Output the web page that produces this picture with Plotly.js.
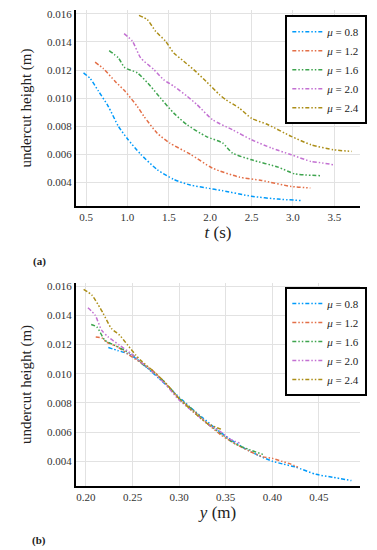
<!DOCTYPE html>
<html>
<head>
<meta charset="utf-8">
<script src="https://cdn.plot.ly/plotly-3.0.1.min.js"></script>
<style>html,body{margin:0;padding:0;background:#fff;}#chart{width:377px;height:550px;}</style>
</head>
<body>
<div id="chart"></div>
<script>
// Series labels and colours
const labels = ['0.8', '1.2', '1.6', '2.0', '2.4'];
const colors = ['#009AFA', '#E36F47', '#3EA44E', '#C371D2', '#AC8E18'];

// (a) undercut height vs time t (s)
const tA08 = [0.47, 0.55, 0.65, 0.77, 0.89, 1.0, 1.16, 1.36, 1.56, 1.76, 1.95, 2.15, 2.5, 2.82, 3.1];
const hA08 = [0.0118, 0.0114, 0.0105, 0.0094, 0.0080, 0.0071, 0.0060, 0.0049, 0.0042, 0.0038, 0.0036, 0.0034, 0.0030, 0.0028, 0.0027];
const tA12 = [0.61, 0.71, 0.85, 0.97, 1.12, 1.20, 1.36, 1.51, 1.76, 2.03, 2.35, 2.62, 2.98, 3.21];
const hA12 = [0.01256, 0.0121, 0.0112, 0.0105, 0.0094, 0.0087, 0.0075, 0.0068, 0.0060, 0.0050, 0.00437, 0.00413, 0.0037, 0.00359];
const tA16 = [0.78, 0.89, 0.97, 1.12, 1.28, 1.40, 1.56, 1.72, 1.95, 2.15, 2.27, 2.5, 2.82, 3.02, 3.33];
const hA16 = [0.01339, 0.01287, 0.01216, 0.0118, 0.01085, 0.0100, 0.00893, 0.0081, 0.00727, 0.0068, 0.00608, 0.0056, 0.00508, 0.0046, 0.00447];
const tA20 = [0.96, 1.06, 1.16, 1.32, 1.44, 1.56, 1.72, 1.84, 2.03, 2.27, 2.5, 2.74, 2.98, 3.22, 3.33, 3.49];
const hA20 = [0.0146, 0.01406, 0.01287, 0.01203, 0.0113, 0.01085, 0.01014, 0.00954, 0.00845, 0.00774, 0.00703, 0.00644, 0.00596, 0.00548, 0.0054, 0.00525];
const tA24 = [1.14, 1.24, 1.34, 1.46, 1.56, 1.68, 1.80, 1.95, 2.11, 2.19, 2.35, 2.5, 2.7, 2.98, 3.22, 3.49, 3.71];
const hA24 = [0.0159, 0.0156, 0.01477, 0.01406, 0.01322, 0.01263, 0.01203, 0.0112, 0.01026, 0.00988, 0.00929, 0.00856, 0.0081, 0.00727, 0.00667, 0.00632, 0.0062];

// (b) undercut height vs position y (m)
const yB08 = [0.224, 0.234, 0.245, 0.255, 0.265, 0.278, 0.29, 0.30, 0.312, 0.325, 0.34, 0.355, 0.37, 0.385, 0.40, 0.412, 0.425, 0.447, 0.465, 0.485];
const hB08 = [0.0118, 0.0116, 0.01138, 0.0110, 0.01045, 0.0097, 0.0090, 0.0084, 0.0077, 0.0070, 0.0062, 0.0055, 0.0049, 0.0044, 0.0040, 0.0038, 0.0036, 0.0031, 0.0029, 0.00267];
const yB12 = [0.2105, 0.217, 0.222, 0.234, 0.245, 0.258, 0.272, 0.286, 0.30, 0.315, 0.33, 0.345, 0.36, 0.375, 0.39, 0.40, 0.41, 0.42, 0.428];
const hB12 = [0.01253, 0.01246, 0.01218, 0.01184, 0.01135, 0.0108, 0.0102, 0.0093, 0.0083, 0.0075, 0.0066, 0.0058, 0.0052, 0.0047, 0.0043, 0.0042, 0.0040, 0.0038, 0.00358];
const yB16 = [0.2056, 0.2116, 0.2203, 0.2308, 0.2414, 0.25, 0.26, 0.272, 0.285, 0.30, 0.315, 0.33, 0.345, 0.36, 0.375, 0.39];
const hB16 = [0.01338, 0.01322, 0.0123, 0.01196, 0.01161, 0.0113, 0.0107, 0.0101, 0.0094, 0.0083, 0.0075, 0.0066, 0.0059, 0.0052, 0.0048, 0.00447];
const yB20 = [0.2021, 0.2098, 0.2168, 0.2238, 0.2361, 0.2484, 0.259, 0.272, 0.285, 0.30, 0.315, 0.33, 0.345, 0.355, 0.365];
const hB20 = [0.01453, 0.01403, 0.01299, 0.01253, 0.01196, 0.01138, 0.0108, 0.0101, 0.0093, 0.0082, 0.0074, 0.0066, 0.0060, 0.0055, 0.00525];
const yB24 = [0.1975, 0.2063, 0.2133, 0.2185, 0.2274, 0.2361, 0.2449, 0.2537, 0.259, 0.272, 0.285, 0.30, 0.315, 0.33, 0.345];
const hB24 = [0.0158, 0.0154, 0.01472, 0.01414, 0.0131, 0.01265, 0.01196, 0.01127, 0.0109, 0.0102, 0.0094, 0.0083, 0.0074, 0.0066, 0.0062];

const seriesA = [[tA08, hA08], [tA12, hA12], [tA16, hA16], [tA20, hA20], [tA24, hA24]];
const seriesB = [[yB08, hB08], [yB12, hB12], [yB16, hB16], [yB20, hB20], [yB24, hB24]];

const FONT = 'Liberation Serif, DejaVu Serif, serif';
const dashStyle = '4px,2px,1.5px,2px,1.5px,2px';

const traces = [];
seriesA.forEach((s, i) => {
  traces.push({
    x: s[0], y: s[1], type: 'scatter', mode: 'lines',
    name: '<i>μ</i> = ' + labels[i],
    line: {color: colors[i], width: 1.5, dash: dashStyle, shape: 'spline', smoothing: 0.6},
    xaxis: 'x', yaxis: 'y', legend: 'legend'
  });
});
seriesB.forEach((s, i) => {
  traces.push({
    x: s[0], y: s[1], type: 'scatter', mode: 'lines',
    name: '<i>μ</i> = ' + labels[i],
    line: {color: colors[i], width: 1.5, dash: dashStyle, shape: 'spline', smoothing: 0.6},
    xaxis: 'x2', yaxis: 'y2', legend: 'legend2'
  });
});

const axisCommon = {
  showline: true, linecolor: '#000', linewidth: 2,
  showgrid: true, gridcolor: '#e2e2e2', gridwidth: 1,
  zeroline: false, ticks: '', mirror: false,
  tickfont: {family: FONT, size: 11, color: '#333'},
  automargin: false
};

const legendCommon = {
  bgcolor: '#fff', bordercolor: '#000', borderwidth: 2,
  font: {family: FONT, size: 11, color: '#222'},
  xanchor: 'left', yanchor: 'top', tracegroupgap: 0,
  itemwidth: 30
};

const layout = {
  width: 377, height: 550,
  margin: {l: 76, r: 12, t: 10, b: 64},
  paper_bgcolor: '#fff', plot_bgcolor: '#fff',
  showlegend: true,
  xaxis: Object.assign({}, axisCommon, {
    domain: [0, 1], anchor: 'y', range: [0.379, 3.81],
    tickvals: [0.5, 1.0, 1.5, 2.0, 2.5, 3.0, 3.5], tickformat: '.1f',
    title: {text: '<i>t</i> (s)', font: {family: FONT, size: 17, color: '#222'}, standoff: 4}
  }),
  yaxis: Object.assign({}, axisCommon, {
    domain: [0.588, 1], anchor: 'x', range: [0.0023, 0.01628],
    tickvals: [0.004, 0.006, 0.008, 0.010, 0.012, 0.014, 0.016], tickformat: '.3f',
    title: {text: 'undercut height (m)', font: {family: FONT, size: 15, color: '#222'}, standoff: 12}
  }),
  xaxis2: Object.assign({}, axisCommon, {
    domain: [0, 1], anchor: 'y2', range: [0.1893, 0.4942],
    tickvals: [0.20, 0.25, 0.30, 0.35, 0.40, 0.45], tickformat: '.2f',
    title: {text: '<i>y</i> (m)', font: {family: FONT, size: 17, color: '#222'}, standoff: 4}
  }),
  yaxis2: Object.assign({}, axisCommon, {
    domain: [0, 0.4265], anchor: 'x2', range: [0.0023, 0.01623],
    tickvals: [0.004, 0.006, 0.008, 0.010, 0.012, 0.014, 0.016], tickformat: '.3f',
    title: {text: 'undercut height (m)', font: {family: FONT, size: 15, color: '#222'}, standoff: 12}
  }),
  legend: Object.assign({}, legendCommon, {x: 0.737, y: 0.989}),
  legend2: Object.assign({}, legendCommon, {x: 0.737, y: 0.418}),
  annotations: [
    {text: '<b>(a)</b>', xref: 'paper', yref: 'paper', x: -0.13, y: (486 - 261) / 476,
     xanchor: 'center', yanchor: 'middle', showarrow: false, font: {family: FONT, size: 11, color: '#222'}},
    {text: '<b>(b)</b>', xref: 'paper', yref: 'paper', x: -0.13, y: (486 - 540) / 476,
     xanchor: 'center', yanchor: 'middle', showarrow: false, font: {family: FONT, size: 11, color: '#222'}}
  ]
};

Plotly.newPlot('chart', traces, layout, {displayModeBar: false, staticPlot: true});
</script>
</body>
</html>
